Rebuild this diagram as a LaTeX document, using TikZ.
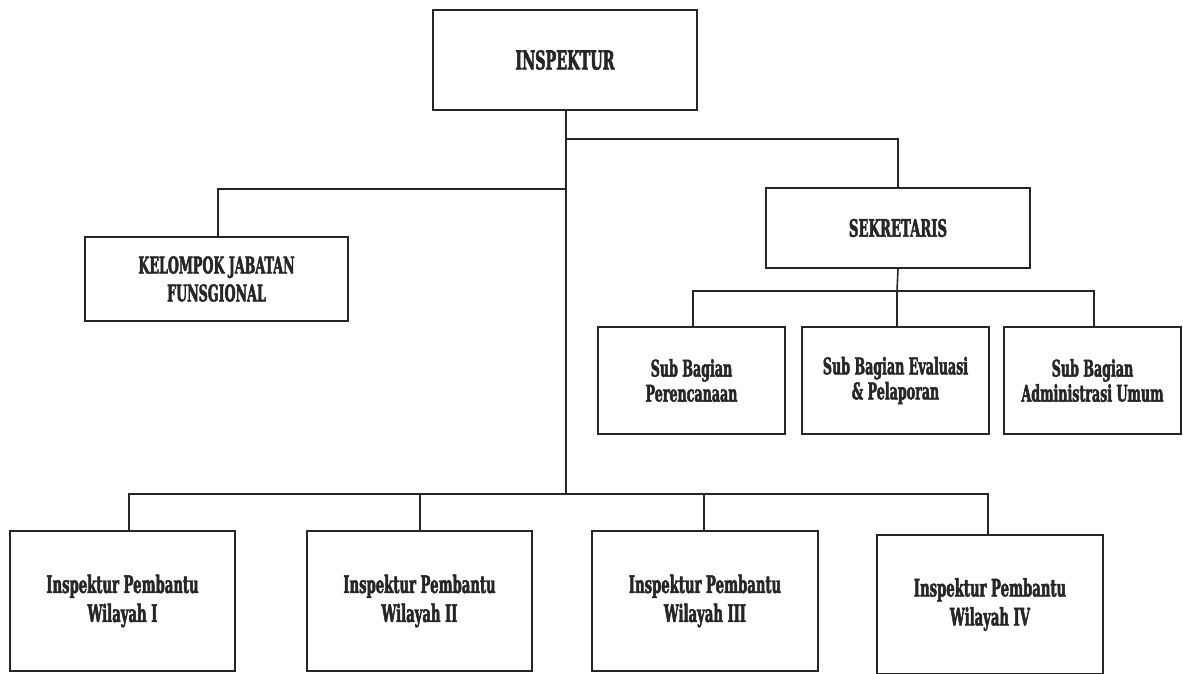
\documentclass[tikz,border=0pt]{standalone}
\usepackage{fontspec}
\setmainfont{DejaVu Serif}[FakeStretch=0.55,BoldFeatures={FakeBold=2}]
\definecolor{ink}{HTML}{262626}
\begin{document}
\begin{tikzpicture}[x=1pt,y=-1pt,
  box/.style={draw=ink, line width=1.6pt, rectangle, align=center, inner sep=0pt, text=ink},
  conn/.style={draw=ink, line width=1.6pt},
  big/.style={font=\fontsize{26}{31}\selectfont\bfseries},
  sek/.style={font=\fontsize{24}{29}\selectfont\bfseries},
  kel/.style={font=\fontsize{23}{28}\selectfont\bfseries},
  mid/.style={font=\fontsize{24}{29}\selectfont\bfseries},
  small/.style={font=\fontsize{23}{25}\selectfont\bfseries}]
\useasboundingbox (0,0) rectangle (1183,674);
\node[box,big,minimum width=264pt,minimum height=100pt] (insp) at (565,60) {INSPEKTUR};
\node[box,sek,minimum width=264pt,minimum height=80pt] (sek) at (898,228) {SEKRETARIS};
\node[box,kel,minimum width=263pt,minimum height=84pt] (kel) at (216.5,279) {KELOMPOK JABATAN\\FUNSGIONAL};
\node[box,small,minimum width=187pt,minimum height=107pt] (s1) at (691.5,380.5) {Sub Bagian\\Perencanaan};
\node[box,small,minimum width=187pt,minimum height=107pt] (s2) at (895.5,380.5) {Sub Bagian Evaluasi\\\& Pelaporan};
\node[box,small,minimum width=177pt,minimum height=107pt] (s3) at (1092.5,380.5) {Sub Bagian\\Administrasi Umum};
\node[box,mid,minimum width=225pt,minimum height=140pt] (b1) at (122.5,601) {Inspektur Pembantu\\Wilayah I};
\node[box,mid,minimum width=225pt,minimum height=140pt] (b2) at (419.5,601) {Inspektur Pembantu\\Wilayah II};
\node[box,mid,minimum width=226pt,minimum height=140pt] (b3) at (705,601) {Inspektur Pembantu\\Wilayah III};
\node[box,mid,minimum width=226pt,minimum height=139pt] (b4) at (990,604.5) {Inspektur Pembantu\\Wilayah IV};
\coordinate (rb) at (566,139);
\coordinate (lb) at (566,189);
\coordinate (bb) at (566,494);
\coordinate (sb) at (897,291);
\draw[conn] ([xshift=1pt]insp.south) -- (bb);
\draw[conn] (rb) -| (sek.north);
\draw[conn] (lb) -| ([xshift=1.5pt]kel.north);
\draw[conn] (sek.south) -- (sb);
\draw[conn] (sb) -| ([xshift=1.5pt]s1.north);
\draw[conn] (sb) -| ([xshift=1.5pt]s2.north);
\draw[conn] (sb) -| ([xshift=1.5pt]s3.north);
\draw[conn] (bb) -| ([xshift=6.5pt]b1.north);
\draw[conn] (bb) -| ([xshift=0.5pt]b2.north);
\draw[conn] (bb) -| ([xshift=-1pt]b3.north);
\draw[conn] (bb) -| ([xshift=-2pt]b4.north);
\end{tikzpicture}
\end{document}
